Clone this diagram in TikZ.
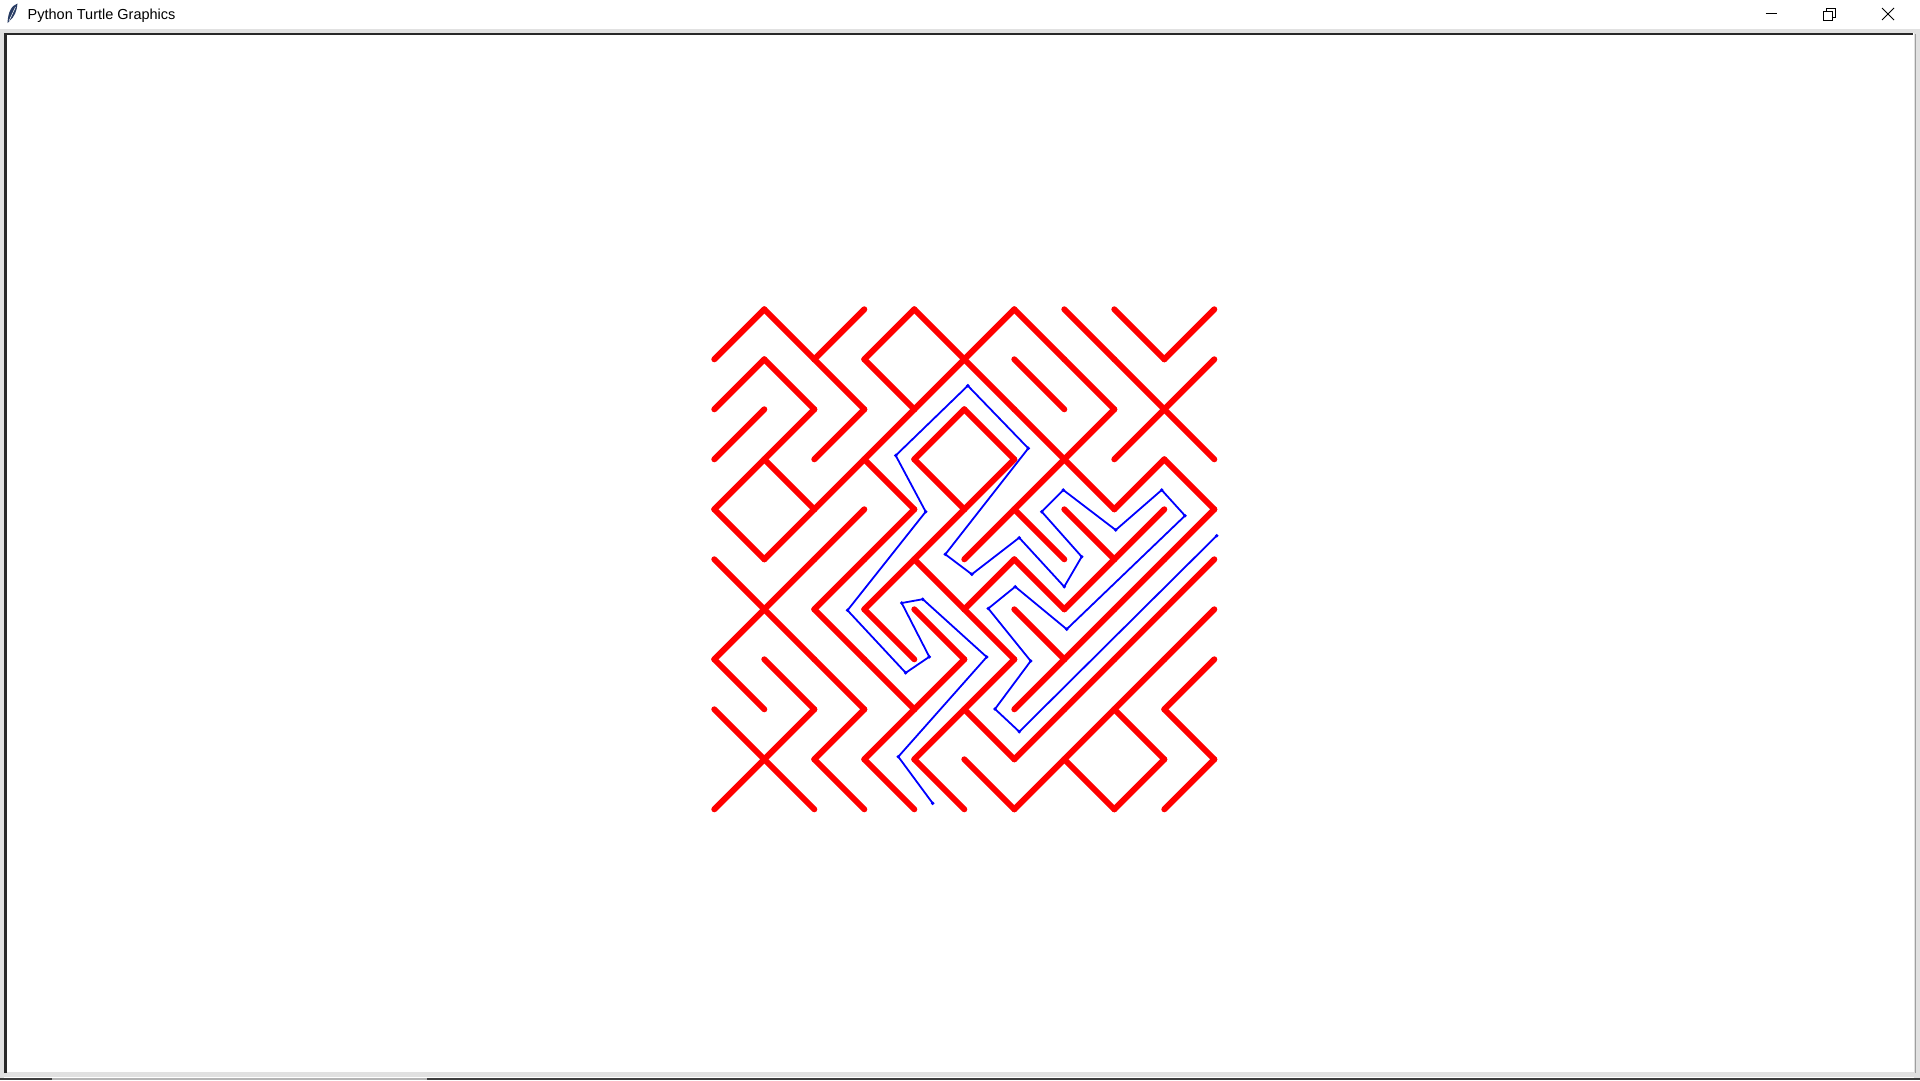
\documentclass[tikz,border=0pt]{standalone}
\usepackage{fontspec}
\setmainfont{Liberation Sans}
\definecolor{mazered}{RGB}{255,0,0}
\definecolor{pathblue}{RGB}{0,0,255}
\definecolor{frame}{RGB}{40,40,40}
\definecolor{lightframe}{RGB}{225,225,225}
\definecolor{feather}{RGB}{40,60,100}
\tikzset{
  wall/.style={draw=mazered, line width=6pt, line cap=round, line join=round},
  route/.style={draw=pathblue, line width=1.8pt, line join=round},
  routedot/.style={fill=pathblue},
  chrome/.style={draw=black, line width=1pt},
}
\begin{document}
\begin{tikzpicture}[x=1pt,y=-1pt]
\useasboundingbox (0,0) rectangle (1920,1080);
\fill[white] (0,0) rectangle (1920,1080);
% window frame
\fill[lightframe] (0,29) rectangle (1920,33);
\fill[lightframe] (0,29) rectangle (4,1080);
\fill[lightframe] (1914,29) rectangle (1920,1080);
\fill[lightframe] (0,1072) rectangle (1920,1077);
\draw[frame, line width=2.2pt] (5.5,1073) -- (5.5,34) -- (1913,34);
\draw[lightframe!70!black, line width=1pt] (1915,34) -- (1915,1073);
\fill[frame!90] (0,1077.5) rectangle (52,1080);
\fill[lightframe!80!black] (52,1077.5) rectangle (427,1080);
\fill[frame!90] (427,1077.5) rectangle (1920,1080);
% title bar
\fill[feather] (7.5,23) .. controls (8,12) and (11.5,5.5) .. (17.5,3.5) .. controls (17,11) and (14,17.5) .. (9.5,21) -- cycle;
\draw[white, line width=0.5pt] (9,21) -- (15.5,7);
\node[anchor=base west, inner sep=0pt, font=\fontsize{14.5}{16}\selectfont] (title) at (27.5,19) {Python Turtle Graphics};
\draw[chrome] (1765.5,13.5) -- (1777,13.5);
\draw[chrome] (1823.5,11) rectangle (1832.5,20);
\draw[chrome] (1826,11) -- (1826,8.5) -- (1835,8.5) -- (1835,17.5) -- (1832.5,17.5);
\draw[chrome] (1882,8) -- (1894,20);
\draw[chrome] (1882,20) -- (1894,8);
% maze
\begin{scope}[shift={(714.3pt,-309.3pt)}, x=50pt, y=-50pt]
\foreach \r/\row in {
  0/{1,0,1,1,0,1,0,0,0,1},
  1/{1,0,0,0,1,0,0,0,0,1},
  2/{1,1,1,1,1,0,0,1,1,0},
  3/{1,0,1,0,0,1,1,0,1,0},
  4/{0,1,1,1,1,1,0,0,1,1},
  5/{0,1,1,1,0,1,0,1,1,1},
  6/{1,0,0,0,0,0,0,1,1,1},
  7/{0,0,0,0,1,1,1,1,1,1},
  8/{0,1,1,1,1,0,1,1,0,0},
  9/{1,0,0,0,0,0,1,0,1,1}}{
  \foreach \t [count=\cc from 0] in \row {
    \ifnum\t=1
      \draw[wall] (\cc,\r+1) -- (\cc+1,\r);
    \else
      \draw[wall] (\cc,\r) -- (\cc+1,\r+1);
    \fi
  }
}
\end{scope}
% solution path
\coordinate (p1) at (1216.7,535.7);
\coordinate (p2) at (1019.3,731.7);
\coordinate (p3) at (995,709);
\coordinate (p4) at (1030.7,661);
\coordinate (p5) at (988.3,608.5);
\coordinate (p6) at (1015.2,586.7);
\coordinate (p7) at (1066.7,629.2);
\coordinate (p8) at (1185,515.7);
\coordinate (p9) at (1161.7,490);
\coordinate (p10) at (1115.7,530);
\coordinate (p11) at (1063.3,490);
\coordinate (p12) at (1041.7,511.7);
\coordinate (p13) at (1081.7,556.7);
\coordinate (p14) at (1064.2,586.7);
\coordinate (p15) at (1019.2,537.7);
\coordinate (p16) at (971.8,574.3);
\coordinate (p17) at (945.3,554.3);
\coordinate (p18) at (1028.3,448.3);
\coordinate (p19) at (967.8,385.7);
\coordinate (p20) at (895.7,455.5);
\coordinate (p21) at (925.7,511.7);
\coordinate (p22) at (847.5,610.3);
\coordinate (p23) at (905.7,672.8);
\coordinate (p24) at (929.3,656.8);
\coordinate (p25) at (901.7,603);
\coordinate (p26) at (922.8,599.2);
\coordinate (p27) at (986.7,657);
\coordinate (p28) at (898.3,756.7);
\coordinate (p29) at (932.7,803.3);
\draw[route] (p1) \foreach \i in {2,...,29} { -- (p\i) };
\foreach \i in {1,...,29} { \fill[routedot] (p\i) circle (1.9); }
\end{tikzpicture}
\end{document}
